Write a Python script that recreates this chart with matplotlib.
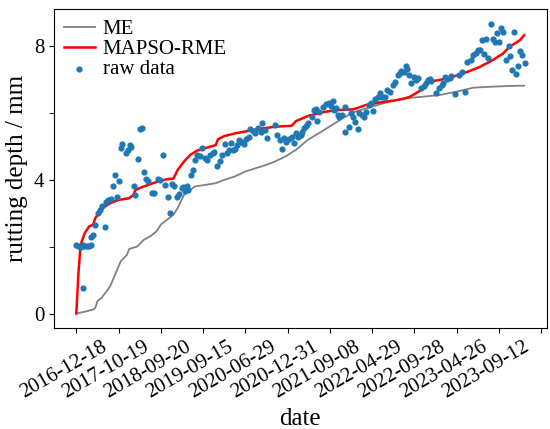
import numpy as np
import matplotlib
matplotlib.use("Agg")
import matplotlib.pyplot as plt
import matplotlib.transforms as mtransforms
from matplotlib.ticker import MultipleLocator

date_labels = ["2016-12-18", "2017-10-19", "2018-09-20", "2019-09-15",
               "2020-06-29", "2020-12-31", "2021-09-08", "2022-04-29",
               "2022-09-28", "2023-04-26", "2023-09-12"]

me_idx = [0, 5, 8, 9, 10, 12, 16, 18, 20, 21, 24, 25, 29, 32, 35, 38, 40, 43,
          46, 48, 51, 56, 61, 66, 70, 75, 80, 85, 90, 94, 99, 104, 106, 109,
          112, 116, 121, 126, 132, 140, 148, 156, 164, 172, 180, 188, 197,
          205, 212]
me_depth = [0.0, 0.07, 0.12, 0.17, 0.37, 0.47, 0.81, 1.11, 1.41, 1.56, 1.76,
            1.93, 2.01, 2.21, 2.31, 2.46, 2.66, 2.81, 2.96, 3.16, 3.55, 3.80,
            3.85, 3.90, 4.00, 4.10, 4.25, 4.35, 4.45, 4.55, 4.70, 4.90, 5.00,
            5.17, 5.29, 5.44, 5.64, 5.84, 6.04, 6.19, 6.34, 6.44, 6.49, 6.54,
            6.64, 6.76, 6.79, 6.81, 6.82]

rme_idx = [0, 1, 2, 4, 6, 8, 9, 11, 13, 16, 20, 25, 27, 28, 31, 35, 39, 43,
           46, 48, 51, 54, 57, 61, 66, 67, 70, 75, 82, 86, 94, 102, 104, 110,
           118, 124, 131, 134, 137, 143, 150, 155, 158, 162, 165, 166, 172,
           178, 185, 191, 197, 202, 205, 210, 212]
rme_depth = [0.0, 1.2, 2.05, 2.41, 2.60, 2.66, 2.86, 3.02, 3.18, 3.30, 3.40,
             3.45, 3.55, 3.70, 3.78, 3.87, 3.96, 4.02, 4.04, 4.30, 4.55, 4.75,
             4.87, 4.95, 5.04, 5.21, 5.31, 5.39, 5.47, 5.52, 5.59, 5.62, 5.76,
             5.92, 6.04, 6.09, 6.11, 6.17, 6.24, 6.31, 6.37, 6.43, 6.49, 6.64,
             6.76, 6.93, 6.99, 7.08, 7.23, 7.38, 7.58, 7.78, 7.98, 8.18, 8.33]

raw_idx = [0, 1, 2, 3, 4, 5, 6, 7, 3.4, 7, 7.8, 8.9, 10.2, 11, 12.2, 13.4,
           14.1, 14.9, 16.2, 17.3, 18.4, 19.4, 20.2, 21.3, 21.8, 23.7, 24.5,
           25.2, 26, 27.3, 27.9, 29.2, 30, 31.1, 32.1, 32.9, 34, 35.6, 36.8,
           38.7, 39.5, 41.1, 42.2, 43.2, 44.3, 45.4, 46.2, 47.5, 48.6, 49.8,
           50.6, 51.4, 52.2, 53, 54.3, 55.4, 56.2, 57, 58.6, 59.7, 61, 62.1,
           63.4, 64.5, 65.4, 66.5, 67.8, 68.9, 70.2, 71.3, 72.1, 73.4, 74,
           75.2, 76, 77.2, 78.1, 79.2, 80.3, 81.6, 82.4, 83.5, 84.8, 86, 87.2,
           87.9, 89.5, 90.3, 94, 95.1, 96.2, 97.2, 98.3, 99.4, 100.6, 102.2,
           103, 103.8, 105, 106.2, 107, 107.8, 108.9, 109.8, 111.5, 112.6,
           113.6, 114.1, 114.9, 116.8, 118.1, 119.4, 120.5, 121.3, 122, 122.9,
           123.7, 124.4, 126, 127.3, 127.3, 128.9, 130, 130.8, 132.1, 133.2,
           134, 135.3, 136.4, 137.2, 138.4, 139.6, 140.3, 141.6, 142.7, 143.8,
           144.8, 145.9, 147, 148.3, 149.8, 151, 152.2, 153, 153.8, 154.9,
           155.9, 156.5, 157.5, 158.6, 159.7, 160.6, 161.7, 163.4, 164.5,
           165.4, 166.5, 167.3, 168.1, 170.5, 171.7, 172.9, 173.7, 174.5,
           175.6, 176.8, 177.6, 179.2, 181.3, 182.4, 184, 185.1, 186.7, 187.9,
           189.2, 190.3, 191.1, 193, 195, 191.9, 194, 196.2, 197.2, 198.3,
           199.1, 200.2, 201.1, 202.2, 203.3, 204.6, 205.4, 206.2, 207.1,
           208.3, 208.9, 210.2, 211, 212.2]
raw_depth = [2.05, 2.02, 2.00, 2.04, 2.03, 2.01, 2.03, 2.05, 0.77, 2.28, 2.36,
             2.66, 3.00, 3.10, 3.22, 2.59, 3.35, 3.40, 3.44, 3.82, 4.15, 3.48,
             3.98, 4.95, 5.06, 4.80, 4.88, 5.04, 4.99, 3.82, 3.55, 4.62, 5.52,
             5.54, 4.25, 4.02, 3.97, 3.62, 3.62, 4.03, 4.00, 4.75, 3.85, 3.48,
             3.02, 3.88, 3.82, 3.50, 3.57, 3.75, 3.80, 3.68, 3.82, 3.70, 4.15,
             4.30, 4.60, 4.75, 4.70, 4.95, 4.65, 4.60, 4.75, 4.80, 4.82, 4.42,
             4.57, 4.75, 5.07, 4.80, 4.90, 5.11, 4.88, 4.92, 5.04, 5.19, 5.14,
             5.06, 5.21, 5.27, 5.51, 5.47, 5.39, 5.54, 5.44, 5.71, 5.49, 5.24,
             5.64, 5.34, 5.19, 4.92, 5.24, 5.14, 5.21, 5.29, 5.11, 5.39, 5.29,
             5.34, 5.44, 5.54, 5.61, 5.69, 5.89, 6.09, 6.11, 5.77, 6.04, 6.17,
             6.27, 6.31, 6.21, 6.37, 6.09, 6.14, 5.94, 5.89, 5.94, 6.17, 5.44,
             5.59, 5.99, 5.89, 5.74, 5.51, 6.01, 5.94, 5.87, 6.04, 6.24, 6.31,
             6.07, 6.41, 6.47, 6.61, 6.49, 6.49, 6.69, 6.64, 6.84, 6.93, 7.13,
             7.20, 7.26, 7.23, 7.40, 7.33, 7.13, 6.90, 7.08, 6.99, 7.06, 6.74,
             6.81, 6.90, 6.99, 7.01, 6.96, 6.61, 6.74, 6.84, 6.90, 7.08, 7.01,
             7.06, 7.10, 6.56, 7.13, 7.23, 6.64, 7.53, 7.58, 7.73, 7.80, 7.88,
             7.90, 7.78, 7.66, 8.20, 8.23, 8.68, 8.23, 8.13, 8.40, 8.13, 8.56,
             8.43, 7.58, 8.00, 7.70, 7.30, 8.43, 7.16, 7.40, 7.86, 7.73, 7.51]

tick_pos = list(range(0, 221, 20))

# ---- plot ----
plt.rcParams["font.family"] = ["Liberation Serif", "DejaVu Serif"]

fig, ax = plt.subplots(figsize=(5.5, 4.29), dpi=100)
fig.subplots_adjust(left=0.098, right=0.9945, top=0.979, bottom=0.2354)

ax.plot(me_idx, me_depth, color="gray", lw=1.3, label="ME")
ax.plot(rme_idx, rme_depth, color="red", lw=1.8, label="MAPSO-RME")
ax.scatter(raw_idx, raw_depth, s=12, color="#1f77b4", label="raw data", zorder=3)

ax.set_xticks(tick_pos)
ax.set_xticklabels([""] + date_labels, rotation=30, ha="right", fontsize=15)
# nudge the rotated date labels a little to the left
offset = mtransforms.ScaledTranslation(-6 / 72, 0, fig.dpi_scale_trans)
for lab in ax.get_xticklabels():
    lab.set_transform(lab.get_transform() + offset)

ax.yaxis.set_major_locator(MultipleLocator(4))
ax.yaxis.set_minor_locator(MultipleLocator(2))
ax.tick_params(axis="y", which="minor", length=3.5)
ax.tick_params(axis="y", labelsize=15)

ax.set_xlabel("date", fontsize=18)
ax.set_ylabel("rutting depth / mm", fontsize=18)

ax.legend(loc="upper left", frameon=False, fontsize=15,
          handlelength=1.45, borderaxespad=0.45, labelspacing=0.02,
          borderpad=0.05, handletextpad=0.4)

fig.savefig("out.png", dpi=100)
